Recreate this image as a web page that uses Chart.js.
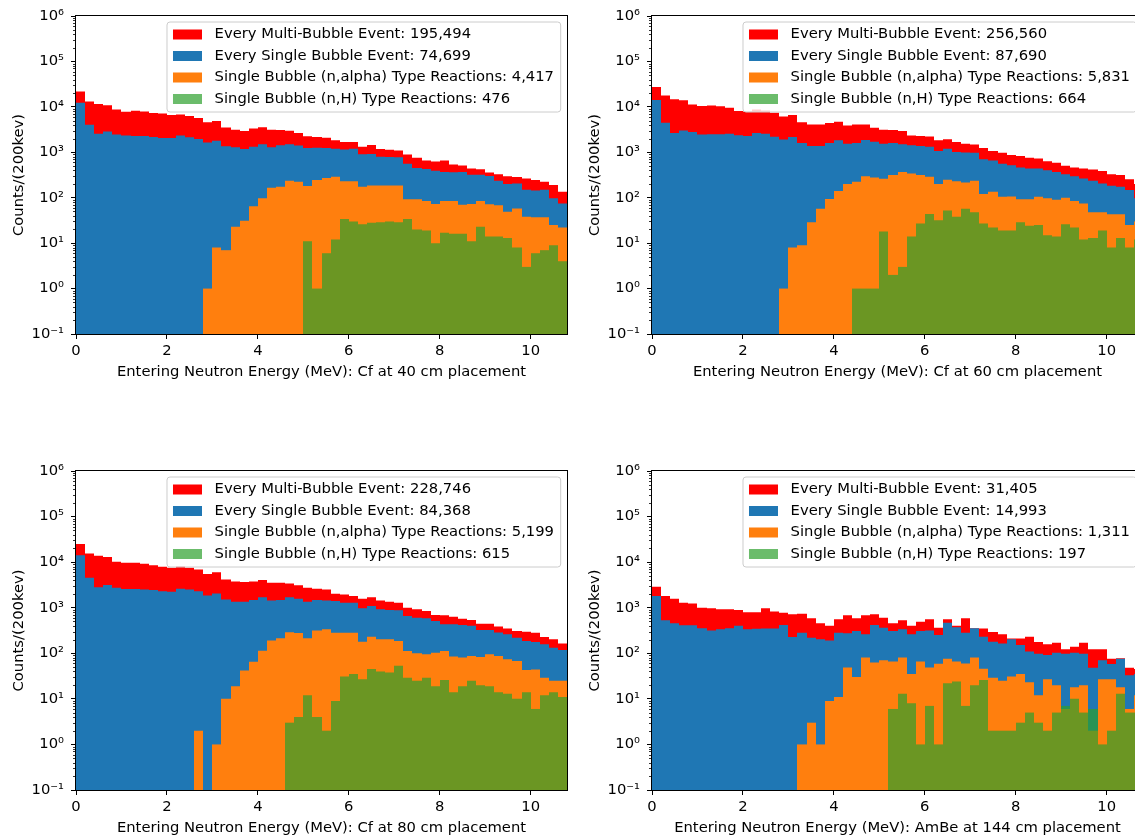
<!DOCTYPE html>
<html>
<head>
<meta charset="utf-8">
<script src="https://cdn.jsdelivr.net/npm/chart.js@4.4.1/dist/chart.umd.min.js"></script>
<style>
  html, body { margin: 0; padding: 0; background: #fff; overflow: hidden; width: 1135px; height: 837px; }
  canvas { position: absolute; }
</style>
</head>
<body>
<canvas id="cf40"></canvas>
<canvas id="cf60"></canvas>
<canvas id="cf80"></canvas>
<canvas id="ambe144"></canvas>
<script>
// 0.2 MeV bins, centres from 0.1 to 10.7
const binWidth = 0.2;
const energyBins = Array.from({ length: 54 }, (_, i) => Math.round((0.1 + 0.2 * i) * 10) / 10);
const xTicks = [0, 2, 4, 6, 8, 10];
const yTicks = [0.1, 1, 10, 100, 1000, 10000, 100000, 1000000];

const seriesNames = [
  'Every Multi-Bubble Event',
  'Every Single Bubble Event',
  'Single Bubble (n,alpha) Type Reactions',
  'Single Bubble (n,H) Type Reactions',
];
const seriesColors = ['#ff0000', '#1f77b4', '#ff7f0e', 'rgba(44, 160, 44, 0.7)'];

// Cf at 40 cm
const multi40 = [21800, 13200, 11500, 10900, 8700, 7800, 8200, 7900, 7300, 7100,
  6600, 6800, 6300, 5700, 4600, 4900, 3500, 3150, 2950, 3350,
  3550, 3150, 3100, 2980, 2650, 2240, 2180, 2100, 1830, 1690,
  1690, 1330, 1450, 1180, 1140, 1090, 890, 755, 660, 625,
  660, 537, 510, 440, 425, 357, 330, 295, 285, 265,
  245, 225, 190, 135];
const single40 = [12300, 4050, 2560, 2880, 2460, 2350, 2270, 2290, 2180, 2050,
  2050, 2350, 2130, 1960, 1650, 1800, 1350, 1290, 1180, 1330,
  1500, 1290, 1420, 1500, 1410, 1240, 1260, 1240, 1200, 1150,
  1200, 900, 920, 800, 790, 780, 560, 450, 430, 390,
  370, 365, 370, 320, 320, 300, 235, 200, 205, 150,
  145, 150, 97, 75];
const alpha40 = [0, 0, 0, 0, 0, 0, 0, 0, 0, 0,
  0, 0, 0, 0, 1, 8, 7, 23, 31, 65,
  97, 166, 174, 235, 224, 180, 245, 270, 290, 230,
  230, 175, 185, 185, 185, 185, 92, 92, 85, 73,
  85, 85, 70, 73, 85, 72, 68, 49, 58, 38,
  37, 37, 25, 22];
const hydrogen40 = [0, 0, 0, 0, 0, 0, 0, 0, 0, 0,
  0, 0, 0, 0, 0, 0, 0, 0, 0, 0,
  0, 0, 0, 0, 0, 11, 1, 6, 12, 34,
  30, 26, 28, 29, 30, 29, 34, 20, 19, 10,
  17, 16, 16, 11, 23, 14, 14, 13, 8, 3,
  6, 7, 9, 4];
const totals40 = ['195,494', '74,699', '4,417', '476'];

// Cf at 60 cm
const multi60 = [27500, 17800, 14700, 14000, 11200, 10500, 10700, 10300, 9500, 8100,
  7900, 8700, 8300, 7400, 6150, 6650, 4600, 4100, 4100, 4400,
  4700, 3900, 4100, 4100, 3450, 3150, 3100, 2950, 2350, 2270,
  2220, 1840, 1930, 1690, 1550, 1480, 1240, 1070, 980, 870,
  830, 760, 730, 635, 590, 505, 460, 440, 420, 385,
  330, 315, 255, 200];
const single60 = [14200, 4450, 2650, 3000, 2800, 2470, 2500, 2500, 2560, 2360,
  2270, 2650, 2560, 2200, 1900, 2180, 1600, 1380, 1380, 1600,
  1840, 1550, 1600, 1870, 1700, 1550, 1600, 1500, 1430, 1380,
  1320, 1070, 1200, 1020, 990, 980, 700, 660, 560, 520,
  460, 440, 440, 400, 370, 330, 297, 265, 235, 205,
  183, 174, 148, 97];
const alpha60 = [0, 0, 0, 0, 0, 0, 0, 0, 0, 0,
  0, 0, 0, 0, 1, 8, 9, 29, 57, 94,
  140, 200, 224, 297, 280, 262, 315, 370, 340, 315,
  290, 200, 250, 230, 217, 235, 120, 135, 105, 107,
  92, 92, 105, 97, 90, 100, 85, 75, 48, 48,
  43, 43, 25, 30];
const hydrogen60 = [0, 0, 0, 0, 0, 0, 0, 0, 0, 0,
  0, 0, 0, 0, 0, 0, 0, 0, 0, 0,
  0, 0, 1, 1, 1, 18, 2, 3, 14, 27,
  44, 32, 52, 38, 57, 48, 27, 22, 19, 19,
  29, 24, 25, 15, 14, 26, 22, 12, 13, 19,
  8, 13, 8, 12];
const totals60 = ['256,560', '87,690', '5,831', '664'];

// Cf at 80 cm
const multi80 = [25100, 15500, 13800, 12900, 10200, 9700, 9700, 9200, 8600, 7900,
  7500, 8200, 7500, 6900, 5500, 6000, 4150, 3750, 3650, 3750,
  4050, 3530, 3530, 3400, 3100, 2750, 2600, 2520, 2030, 1960,
  1800, 1580, 1700, 1440, 1350, 1290, 1000, 920, 850, 690,
  680, 635, 575, 535, 445, 445, 385, 350, 310, 297,
  283, 228, 203, 163];
const single80 = [14200, 4550, 2830, 3150, 2750, 2570, 2570, 2520, 2450, 2300,
  2240, 2600, 2520, 2300, 1860, 2050, 1520, 1350, 1350, 1470,
  1700, 1440, 1470, 1700, 1580, 1350, 1470, 1440, 1400, 1290,
  1290, 970, 1090, 920, 890, 880, 660, 600, 585, 510,
  435, 435, 420, 400, 325, 325, 285, 262, 220, 187,
  177, 157, 133, 118];
const alpha80 = [0, 0, 0, 0, 0, 0, 0, 0, 0, 0,
  0, 0, 0, 2, 0, 1, 10, 19, 42, 65,
  114, 192, 213, 288, 280, 213, 315, 335, 283, 283,
  283, 180, 230, 203, 203, 187, 112, 100, 95, 103,
  112, 85, 81, 87, 83, 95, 87, 74, 68, 43,
  44, 29, 25, 25];
const hydrogen80 = [0, 0, 0, 0, 0, 0, 0, 0, 0, 0,
  0, 0, 0, 0, 0, 0, 0, 0, 0, 0,
  0, 0, 0, 3, 4, 12, 4, 2, 9, 31,
  35, 27, 45, 40, 38, 53, 29, 25, 29, 19,
  26, 14, 19, 25, 20, 19, 14, 13, 10, 14,
  6, 12, 14, 11];
const totals80 = ['228,746', '84,368', '5,199', '615'];

// AmBe at 144 cm
const multi144 = [2880, 1800, 1580, 1290, 1240, 1000, 970, 920, 920, 890,
  800, 800, 970, 830, 780, 715, 740, 585, 455, 400,
  555, 680, 585, 680, 715, 605, 455, 530, 400, 490,
  555, 365, 555, 400, 585, 355, 350, 295, 260, 210,
  210, 232, 177, 157, 170, 122, 140, 170, 122, 122,
  76, 78, 48, 45];
const single144 = [1800, 530, 455, 410, 410, 355, 318, 335, 355, 400,
  335, 345, 350, 350, 420, 228, 283, 220, 203, 192,
  283, 275, 310, 262, 420, 365, 310, 335, 262, 310,
  318, 252, 470, 375, 283, 355, 232, 180, 163, 203,
  152, 109, 98, 92, 103, 98, 103, 98, 48, 70,
  58, 76, 33, 35];
const alpha144 = [0, 0, 0, 0, 0, 0, 0, 0, 0, 0,
  0, 0, 0, 0, 0, 0, 1, 3, 1, 9,
  11, 49, 30, 81, 63, 70, 66, 81, 35, 66,
  49, 59, 76, 66, 60, 81, 46, 29, 25, 31,
  35, 23, 12, 27, 20, 6, 18, 20, 2, 27,
  27, 18, 6, 12];
const hydrogen144 = [0, 0, 0, 0, 0, 0, 0, 0, 0, 0,
  0, 0, 0, 0, 0, 0, 0, 0, 0, 0,
  0, 0, 0, 0, 0, 0, 6, 13, 8, 1,
  7, 1, 22, 24, 7, 20, 26, 2, 2, 2,
  3, 5, 3, 2, 5, 7, 10, 5, 6, 1,
  2, 13, 5, 5];
const totals144 = ['31,405', '14,993', '1,311', '197'];

const fontFamily = "'DejaVu Sans', sans-serif";
const fontSize = 14.75;
Chart.defaults.font.family = fontFamily;
Chart.defaults.font.size = fontSize;
Chart.defaults.color = '#000';

const superscripts = { '-': '\u207B', '0': '\u2070', '1': '\u00B9', '2': '\u00B2', '3': '\u00B3',
  '4': '\u2074', '5': '\u2075', '6': '\u2076', '7': '\u2077', '8': '\u2078', '9': '\u2079' };
function powerLabel(v) {
  const e = String(Math.round(Math.log10(v)));
  return '10' + e.split('').map(c => superscripts[c]).join('');
}

// put bin edges on whole pixels so neighbouring bins meet without seams
const snapBars = {
  id: 'snapBars',
  beforeDatasetsDraw(chart) {
    const xs = chart.scales.x;
    const edgePx = v => Math.round(xs.getPixelForValue(Math.round(v * 10) / 10));
    chart.getSortedVisibleDatasetMetas().forEach(meta => {
      meta.data.forEach((bar, i) => {
        const c = energyBins[i];
        const l = edgePx(c - binWidth / 2);
        const r = edgePx(c + binWidth / 2);
        bar.x = (l + r) / 2;
        bar.width = r - l;
      });
    });
  }
};

// outer frame and the short log minor ticks
const frame = {
  id: 'frame',
  afterDatasetsDraw(chart) {
    const { ctx, chartArea: a } = chart;
    const y = chart.scales.y;
    ctx.save();
    ctx.strokeStyle = '#000';
    ctx.lineWidth = 1;
    ctx.strokeRect(a.left - 0.5, a.top - 0.5, a.right - a.left + 1, a.bottom - a.top + 1);
    ctx.beginPath();
    ctx.lineWidth = 0.8;
    for (let e = -1; e < 6; e++) {
      for (let m = 2; m < 10; m++) {
        const py = Math.round(y.getPixelForValue(m * Math.pow(10, e))) + 0.5;
        ctx.moveTo(a.left - 3, py);
        ctx.lineTo(a.left, py);
      }
    }
    ctx.stroke();
    ctx.restore();
  }
};

// boxed legend in the upper right corner of the axes
const histLegend = {
  id: 'histLegend',
  afterDraw(chart, args, opts) {
    const { ctx, chartArea: a } = chart;
    const labels = seriesNames.map((n, i) => n + ': ' + opts.totals[i]);
    ctx.save();
    ctx.font = fontSize + 'px ' + fontFamily;
    const textW = Math.max(...labels.map(l => ctx.measureText(l).width));
    const w = 47.6 + textW + 6.7;
    const h = 90;
    const right = a.right - 6.3;
    const left = right - w;
    const top = a.top + 6;
    ctx.beginPath();
    ctx.roundRect(left, top, w, h, 3);
    ctx.fillStyle = 'rgba(255, 255, 255, 0.8)';
    ctx.fill();
    ctx.strokeStyle = '#cccccc';
    ctx.lineWidth = 1;
    ctx.stroke();
    ctx.textBaseline = 'middle';
    ctx.textAlign = 'left';
    labels.forEach((l, i) => {
      const cy = top + 12.5 + 21.5 * i;
      ctx.fillStyle = seriesColors[i];
      ctx.fillRect(left + 6, cy - 5, 29, 10);
      ctx.fillStyle = '#000';
      ctx.fillText(l, left + 47.6, cy);
    });
    ctx.restore();
  }
};

function points(values) {
  return energyBins.map((x, i) => ({ x, y: values[i] > 0 ? values[i] : null }));
}

function drawPanel(id, box, series, totals, xLabel) {
  const canvas = document.getElementById(id);
  canvas.width = box.width;
  canvas.height = box.height;
  canvas.style.left = box.left + 'px';
  canvas.style.top = box.top + 'px';

  // later datasets are drawn underneath, so the order is reversed here
  const datasets = series.map((values, i) => ({
    label: seriesNames[i],
    data: points(values),
    backgroundColor: seriesColors[i],
  })).reverse();

  new Chart(canvas, {
    type: 'bar',
    data: { datasets },
    plugins: [snapBars, frame, histLegend],
    options: {
      responsive: false,
      animation: false,
      events: [],
      layout: { padding: { left: 0, top: box.padTop, right: box.padRight, bottom: 0 } },
      datasets: {
        bar: { grouped: false, barPercentage: 1, categoryPercentage: 1, borderWidth: 0, inflateAmount: 0 }
      },
      plugins: {
        legend: { display: false },
        tooltip: { enabled: false },
        histLegend: { totals },
      },
      scales: {
        x: {
          type: 'linear',
          min: 0,
          max: 10.8,
          offset: false,
          afterBuildTicks: s => { s.ticks = xTicks.map(v => ({ value: v })); },
          afterFit: s => { s.height = box.xAxisHeight; },
          grid: { offset: false, drawOnChartArea: false, drawTicks: true, tickLength: 5, tickColor: '#000', tickWidth: 1 },
          border: { display: false },
          ticks: { color: '#000', padding: 3, maxRotation: 0, autoSkip: false },
          title: { display: true, text: xLabel, color: '#000', padding: 0 }
        },
        y: {
          type: 'logarithmic',
          min: 0.1,
          max: 1000000,
          afterBuildTicks: s => { s.ticks = yTicks.map(v => ({ value: v })); },
          afterFit: s => { s.width = 76; },
          grid: { offset: false, drawOnChartArea: false, drawTicks: true, tickLength: 5, tickColor: '#000', tickWidth: 1 },
          border: { display: false },
          ticks: { color: '#000', padding: 7, autoSkip: false, callback: v => powerLabel(v) },
          title: { display: true, text: 'Counts/(200kev)', color: '#000', padding: { top: 10.6, bottom: 0 } }
        }
      }
    }
  });
}

const topRow = { top: 0, height: 381, padTop: 16, xAxisHeight: 47 };
const bottomRow = { top: 440, height: 397, padTop: 31, xAxisHeight: 47 };
const leftCol = { left: 0, width: 575, padRight: 8 };
const rightCol = { left: 576, width: 575, padRight: 8 };

drawPanel('cf40', { ...topRow, ...leftCol }, [multi40, single40, alpha40, hydrogen40], totals40,
  'Entering Neutron Energy (MeV): Cf at 40 cm placement');
drawPanel('cf60', { ...topRow, ...rightCol }, [multi60, single60, alpha60, hydrogen60], totals60,
  'Entering Neutron Energy (MeV): Cf at 60 cm placement');
drawPanel('cf80', { ...bottomRow, ...leftCol }, [multi80, single80, alpha80, hydrogen80], totals80,
  'Entering Neutron Energy (MeV): Cf at 80 cm placement');
drawPanel('ambe144', { ...bottomRow, ...rightCol }, [multi144, single144, alpha144, hydrogen144], totals144,
  'Entering Neutron Energy (MeV): AmBe at 144 cm placement');
</script>
</body>
</html>
